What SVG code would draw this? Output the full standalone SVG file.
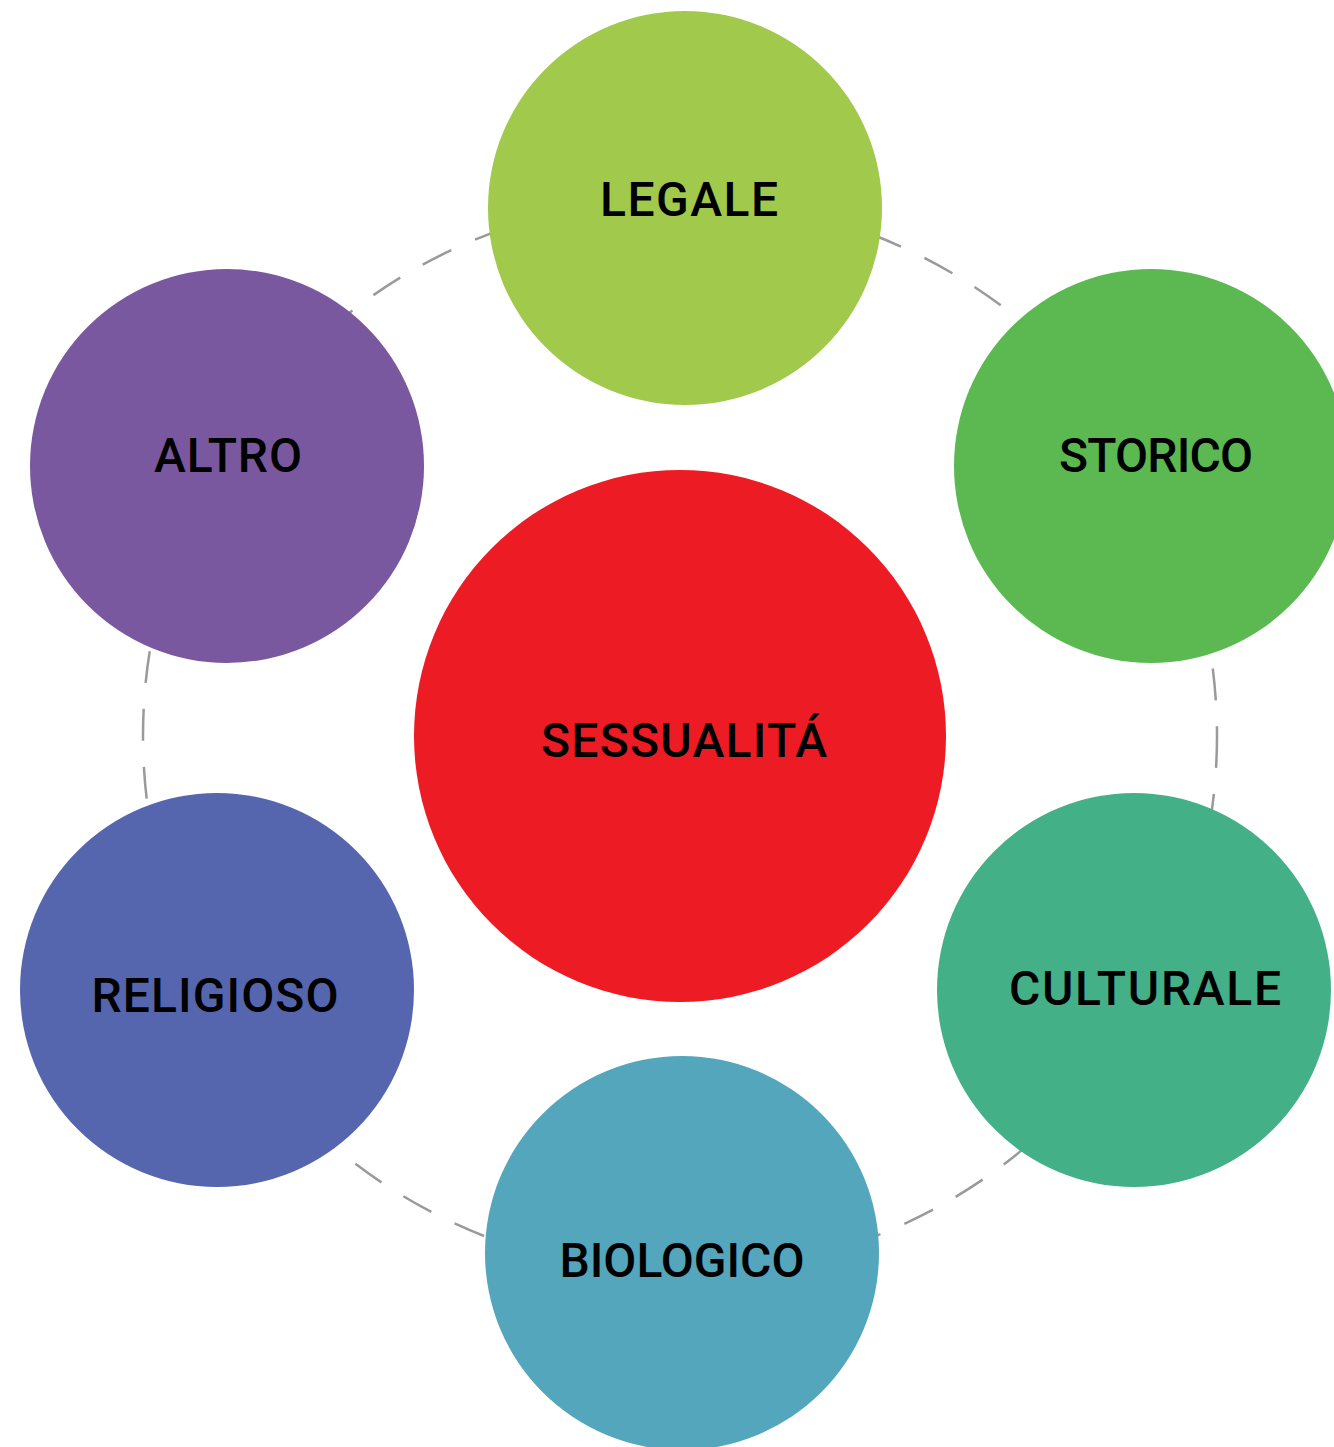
<svg xmlns="http://www.w3.org/2000/svg" width="1334" height="1447" viewBox="0 0 1334 1447">
<style>
.lbl{font-family:Roboto,"DejaVu Sans",sans-serif;font-weight:500;font-size:48px;fill:#000;text-anchor:middle;lengthAdjust:spacing}
.ring{fill:none;stroke:#9a9a9a;stroke-width:2.5;stroke-dasharray:32 26}
</style>
<rect width="1334" height="1447" fill="#fff"/>
<g id="connectors">
<circle class="ring" cx="680" cy="736" r="537"/>
</g>
<g id="center"><circle cx="680" cy="736" r="266" fill="#ED1C24"/><text class="lbl" x="684" y="757" textLength="286" lengthAdjust="spacing">SESSUALITÁ</text></g>
<g id="legale"><circle cx="685" cy="208" r="197" fill="#A1C94C"/><text class="lbl" x="689" y="216" textLength="178" lengthAdjust="spacing">LEGALE</text></g>
<g id="storico"><circle cx="1151" cy="466" r="197" fill="#5CB951"/><text class="lbl" x="1156" y="472" textLength="194" lengthAdjust="spacing">STORICO</text></g>
<g id="culturale"><circle cx="1134" cy="990" r="197" fill="#44B088"/><text class="lbl" x="1145" y="1005" textLength="272" lengthAdjust="spacing">CULTURALE</text></g>
<g id="biologico"><circle cx="682" cy="1253" r="197" fill="#53A6BB"/><text class="lbl" x="682" y="1277" textLength="245" lengthAdjust="spacing">BIOLOGICO</text></g>
<g id="religioso"><circle cx="217" cy="990" r="197" fill="#5565AE"/><text class="lbl" x="215" y="1012" textLength="247" lengthAdjust="spacing">RELIGIOSO</text></g>
<g id="altro"><circle cx="227" cy="466" r="197" fill="#7A58A0"/><text class="lbl" x="228" y="472" textLength="148" lengthAdjust="spacing">ALTRO</text></g>
</svg>
